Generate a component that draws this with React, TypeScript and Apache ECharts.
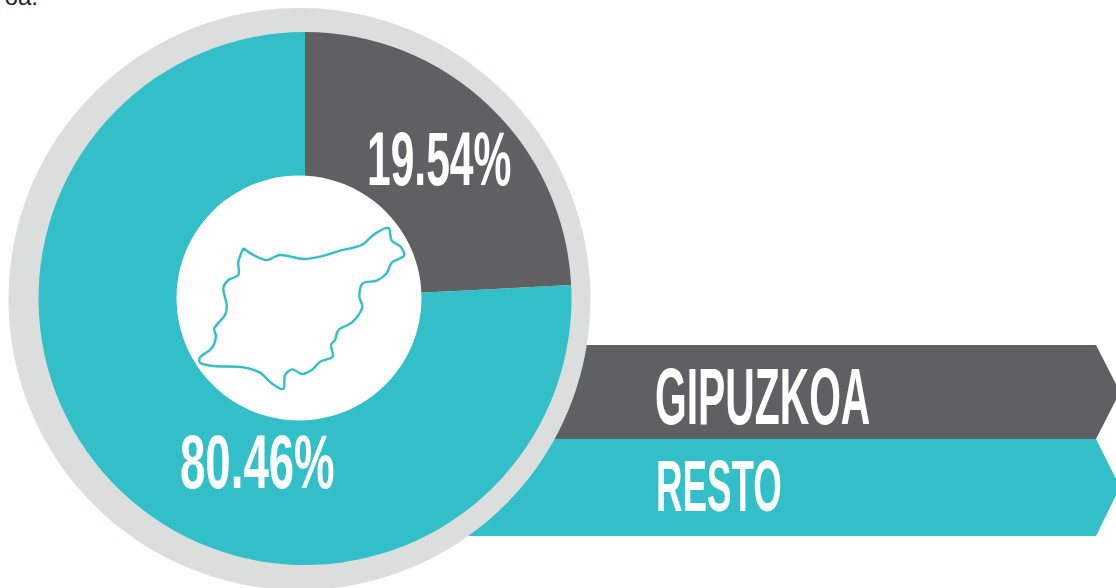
import React, { useEffect, useRef } from "react";
import * as echarts from "echarts";

const categories = ["GIPUZKOA", "RESTO"];
const printedLabels = ["19.54%", "80.46%"];
// Shares as actually drawn in the picture (the wedge spans about 87 degrees)
const drawnShares = [24.2, 75.8];

const DARK = "#606062";
const TEAL = "#32BFC7";
const GREY = "#DCDEDE";
const FONT = "'Liberation Sans Narrow', 'Liberation Sans', sans-serif";

const outlineZoomed: number[][] = [
  [220, 145], [250, 165], [290, 180], [330, 165], [400, 177], [450, 170], [510, 152], [575, 135],
  [610, 105], [640, 87], [657, 85], [665, 122], [692, 140], [702, 167], [665, 188], [650, 220],
  [620, 242], [578, 250], [568, 290], [577, 322], [545, 368], [505, 390], [495, 420], [483, 435],
  [488, 470], [450, 485], [425, 510], [395, 522], [368, 508], [345, 525], [340, 567], [305, 550],
  [270, 518], [220, 502], [130, 498], [90, 488], [90, 472], [125, 445], [138, 410], [133, 385],
  [165, 345], [170, 315], [160, 265], [175, 240], [205, 225], [205, 185], [220, 145],
];
const outline = outlineZoomed.map(([x, y]) => [170 + x / 3, 200 + y / 3]);

const brushText = (text: string, x: number, y: number, size: number, scaleX: number, rotation = 0) => ({
  type: "text",
  x,
  y,
  scaleX,
  rotation,
  z: 100,
  silent: true,
  style: { text, fontFamily: FONT, fontWeight: "bold", fontSize: size, fill: "#ffffff", textAlign: "left" },
});

const disc = (center: number[], radius: number, color: string, z: number) => ({
  type: "pie",
  z,
  silent: true,
  center,
  radius: [0, radius],
  label: { show: false },
  labelLine: { show: false },
  emphasis: { disabled: true },
  data: [{ value: 1, itemStyle: { color } }],
});

export default function App() {
  const ref = useRef<HTMLDivElement>(null);
  useEffect(() => {
    document.body.style.margin = "0";
    const chart = echarts.init(ref.current!, null, { renderer: "svg" });
    chart.setOption({
      animation: false,
      backgroundColor: "#ffffff",
      series: [
        disc([299.5, 299], 291, GREY, 2),
        {
          type: "pie",
          z: 3,
          silent: true,
          center: [305, 298.5],
          radius: [0, 266.5],
          startAngle: 90,
          clockwise: true,
          label: { show: false },
          labelLine: { show: false },
          emphasis: { disabled: true },
          data: categories.map((name, i) => ({
            name,
            value: drawnShares[i],
            itemStyle: { color: i === 0 ? DARK : TEAL },
          })),
        },
        disc([299, 298], 122.5, "#ffffff", 4),
      ],
      graphic: {
        elements: [
          {
            type: "polygon",
            z: 0,
            silent: true,
            shape: { points: [[400, 345], [1096, 345], [1120, 392], [1096, 439], [400, 439]] },
            style: { fill: DARK },
          },
          {
            type: "polygon",
            z: 0,
            silent: true,
            shape: { points: [[400, 439], [1096, 439], [1120, 487], [1096, 536], [400, 536]] },
            style: { fill: TEAL },
          },
          {
            type: "polyline",
            z: 100,
            silent: true,
            shape: { points: outline, smooth: 0.3 },
            style: { stroke: TEAL, lineWidth: 2.4, fill: "none" },
          },
          brushText(categories[0], 655, 356, 80, 0.51),
          brushText(categories[1], 656, 450, 72, 0.51),
          brushText(printedLabels[0], 367, 120, 76, 0.56),
          brushText(printedLabels[1], 180, 423, 76, 0.6),
          {
            type: "text",
            x: 38,
            y: -16,
            z: 100,
            silent: true,
            style: { text: "oa.", fontFamily: "'Liberation Sans', sans-serif", fontSize: 24, fill: "#222222", textAlign: "right" },
          },
        ],
      },
    });
    return () => chart.dispose();
  }, []);
  return <div ref={ref} style={{ width: 1116, height: 588 }} />;
}
